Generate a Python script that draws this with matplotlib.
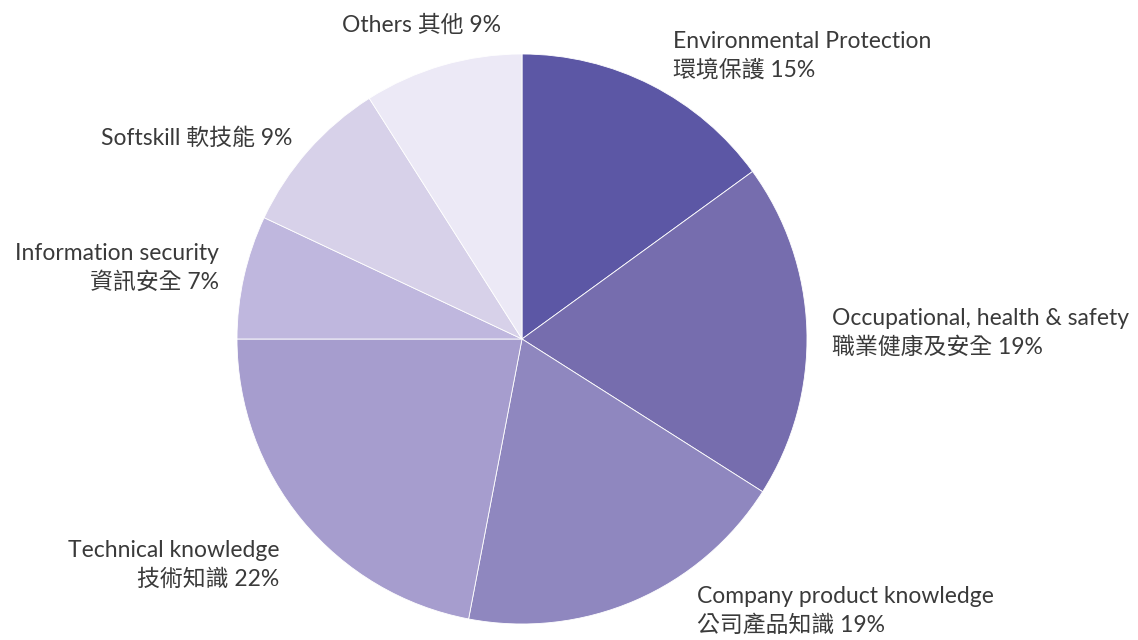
import matplotlib.pyplot as plt

labels = ['Environmental Protection\n環境保護 15%',
          'Occupational, health & safety\n職業健康及安全 19%',
          'Company product knowledge\n公司產品知識 19%',
          'Technical knowledge\n技術知識 22%',
          'Information security\n資訊安全 7%',
          'Softskill 軟技能 9%',
          'Others 其他 9%']
values = [15, 19, 19, 22, 7, 9, 9]
colors = ['#5c57a5', '#766dae', '#8f87bf', '#a69dce', '#bfb7de', '#d7d1e9', '#ece9f6']

plt.rcParams['font.family'] = ['Lato', 'Noto Sans CJK TC', 'DejaVu Sans']

fig = plt.figure(figsize=(11.38, 6.4), dpi=100)
cx, cy, r = 522, 339, 285
ax = fig.add_axes([(cx - r) / 1138, (640 - cy - r) / 640, 2 * r / 1138, 2 * r / 640])
ax.pie(values, colors=colors, startangle=90, counterclock=False,
       wedgeprops=dict(edgecolor='white', linewidth=0.6))
ax.set_xlim(-1, 1)
ax.set_ylim(-1, 1)
ax.set_aspect('equal')

# label anchors in pixels (x, y of top line centre, alignment)
pos = [(673, 41, 'left'), (832, 318, 'left'), (697, 596, 'left'),
       (279, 550, 'right'), (219, 253, 'right'), (292, 137, 'right'),
       (422, 25, 'center')]
for lab, (px, py, ha) in zip(labels, pos):
    fig.text(px / 1138, 1 - (py - 10) / 640, lab, ha=ha, va='top',
             fontsize=16.5, color='#3a3a3a', linespacing=1.42,
             multialignment=ha)

fig.savefig('out.png', dpi=100)
